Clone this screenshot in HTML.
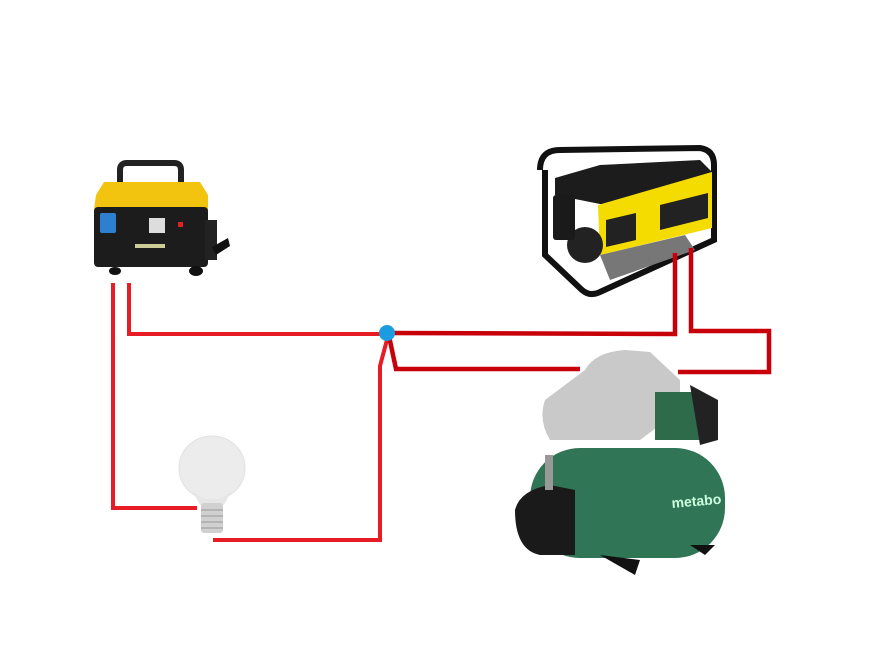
<!DOCTYPE html>
<html><head><meta charset="utf-8"><style>html,body{margin:0;padding:0;background:#fff}svg{display:block}</style></head>
<body>
<svg width="894" height="658" viewBox="0 0 894 658" xmlns="http://www.w3.org/2000/svg">
<rect width="894" height="658" fill="#fff"/>
<!-- small generator -->
<g>
<path d="M120 185 V170 Q120 163 127 163 H174 Q181 163 181 170 V185" fill="none" stroke="#222" stroke-width="6"/>
<path d="M96 195 L104 182 H200 L208 195 V210 H94 Z" fill="#f2c40f"/>
<rect x="94" y="207" width="114" height="60" rx="4" fill="#1c1c1c"/>
<rect x="100" y="213" width="16" height="20" rx="2" fill="#2f7fd0"/>
<rect x="149" y="218" width="16" height="15" fill="#ddd"/>
<rect x="178" y="222" width="5" height="5" fill="#d22"/>
<rect x="135" y="244" width="30" height="4" fill="#cc9"/>
<rect x="205" y="220" width="12" height="40" fill="#222"/>
<path d="M212 247 L228 238 L230 246 L216 255 Z" fill="#111"/>
<ellipse cx="115" cy="271" rx="6" ry="4" fill="#111"/>
<ellipse cx="196" cy="271" rx="7" ry="5" fill="#111"/>
</g>
<!-- big generator -->
<g>
<path d="M540 170 Q540 150 560 150 L700 148 Q714 150 714 165 V240 L600 292 Q590 297 582 290 L545 255 V170" fill="none" stroke="#111" stroke-width="6"/>
<path d="M555 178 L600 165 L700 160 L712 172 L605 205 L555 195 Z" fill="#1c1c1c"/>
<path d="M598 205 L712 172 V228 L600 255 Z" fill="#f4dc00"/>
<path d="M606 220 L636 213 V240 L606 247 Z" fill="#222"/>
<path d="M660 205 L708 193 V218 L660 230 Z" fill="#222"/>
<circle cx="585" cy="245" r="18" fill="#222"/>
<rect x="553" y="195" width="22" height="45" rx="3" fill="#1a1a1a"/>
<path d="M600 255 L685 235 L695 250 L610 280 Z" fill="#777"/>
</g>
<!-- pump -->
<g>
<path d="M585 370 Q595 352 625 350 L650 352 L680 380 V410 L640 440 H550 Q538 420 545 400 Z" fill="#c9c9c9"/>
<path d="M655 392 H700 Q712 400 710 430 L700 440 H655 Z" fill="#2e6b4b"/>
<path d="M690 385 L718 400 V440 L700 445 Z" fill="#222"/>
<rect x="530" y="448" width="195" height="110" rx="50" fill="#2f7556"/>
<path d="M515 510 Q520 490 550 485 L575 490 V555 H540 Q515 550 515 510 Z" fill="#1a1a1a"/>
<rect x="545" y="455" width="8" height="35" fill="#999"/>
<path d="M600 555 L635 575 L640 560 Z" fill="#111"/>
<path d="M690 545 L705 555 L715 545 Z" fill="#111"/>
<text x="672" y="508" font-family="Liberation Sans, sans-serif" font-size="14" font-weight="bold" fill="#cfd" transform="rotate(-5 672 508)">metabo</text>
</g>
<!-- bulb -->
<g>
<ellipse cx="212" cy="468" rx="33" ry="32" fill="#ececec" stroke="#e0e0e0"/>
<path d="M192 490 Q212 510 232 490 L224 505 H200 Z" fill="#e6e6e6"/>
<rect x="201" y="503" width="22" height="30" rx="3" fill="#d0d0d0"/>
<path d="M201 510 H223 M201 516 H223 M201 522 H223 M201 528 H223" stroke="#aaa" stroke-width="1.5"/>
</g>
<!-- bright red wires -->
<g fill="none" stroke="#e81c24" stroke-width="4" stroke-linejoin="miter">
<polyline points="113,283 113,508 197,508"/>
<polyline points="129,283 129,334 385,334"/>
<polyline points="213,540 380,540 380,366 388,336"/>
</g>
<!-- dark red wires -->
<g fill="none" stroke="#c8000a" stroke-width="4.5">
<polyline points="390,333 675,334 675,253"/>
<polyline points="389,336 396,369 580,369"/>
<polyline points="678,372 769,372 769,331 691,331 691,248"/>
</g>
<circle cx="387" cy="333" r="8" fill="#1b9be0"/>
</svg>
</body></html>
